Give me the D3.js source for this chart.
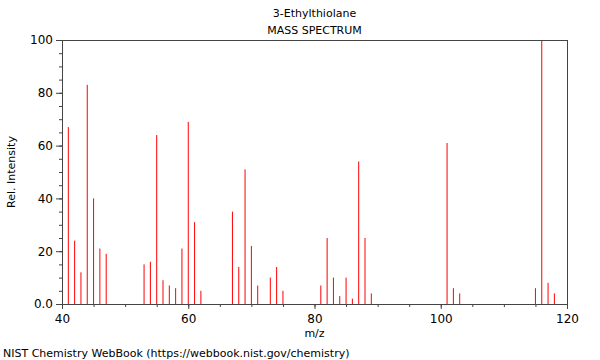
<!DOCTYPE html>
<html><head><meta charset="utf-8">
<script src="https://cdn.jsdelivr.net/npm/d3@7"></script>
<style>body{margin:0;background:#fff}svg{display:block}text{font-family:"DejaVu Sans",sans-serif;fill:#000}</style>
</head><body>
<svg id="c" width="600" height="360"></svg>
<script>
const title = "3-Ethylthiolane";
const subtitle = "MASS SPECTRUM";
const mz = [41,42,43,44,45,46,47,53,54,55,56,57,58,59,60,61,62,67,68,69,70,71,73,74,75,81,82,83,84,85,86,87,88,89,101,102,103,115,116,117,118];
const intensity = [67,24,12,83,40,21,19,15,16,64,9,7,6,21,69,31,5,35,14,51,22,7,10,14,5,7,25,10,3,10,2,54,25,4,61,6,4,6,100,8,4];
const xTicks = [40,60,80,100,120];
const yTicks = [0,20,40,60,80,100];
const yTickLabels = ["0.0","20","40","60","80","100"];

const svg = d3.select("#c");
const L = 62, R = 567, T = 40, B = 304;
const x = d3.scaleLinear().domain([40,120]).range([L,R]);
const y = d3.scaleLinear().domain([0,100]).range([B,T]);
const axisColor = "#444";

// bars
svg.append("g").selectAll("line").data(mz).join("line")
  .attr("x1", d => x(d)).attr("x2", d => x(d))
  .attr("y1", y(0)).attr("y2", (d,i) => y(intensity[i]))
  .attr("stroke", "#ff0000").attr("stroke-width", 1);

// x axis minor ticks
const xa = svg.append("g").attr("transform", `translate(0,${B})`);
xa.call(d3.axisBottom(x).tickValues(d3.range(40,121,5)).tickSize(3).tickFormat(""));
xa.call(g => g.append("g").call(d3.axisBottom(x).tickValues(xTicks).tickSize(5).tickPadding(5).tickFormat(d3.format("d"))));
xa.selectAll("path").attr("stroke", axisColor);
xa.selectAll("line").attr("stroke", axisColor);
xa.selectAll("text").attr("font-size", 12).attr("font-family", "DejaVu Sans").attr("fill","#000");

const ya = svg.append("g").attr("transform", `translate(${L},0)`);
ya.call(d3.axisLeft(y).tickValues(d3.range(0,101,5)).tickSize(3).tickFormat(""));
ya.call(g => g.append("g").call(d3.axisLeft(y).tickValues(yTicks).tickSize(6).tickPadding(3).tickFormat((d,i) => yTickLabels[i])));
ya.selectAll("path").attr("stroke", axisColor);
ya.selectAll("line").attr("stroke", axisColor);
ya.selectAll("text").attr("font-size", 12).attr("font-family", "DejaVu Sans").attr("fill","#000");

// frame top/right
svg.append("line").attr("x1", L).attr("x2", R).attr("y1", T+0.5).attr("y2", T+0.5).attr("stroke", axisColor);
svg.append("line").attr("x1", R+0.5).attr("x2", R+0.5).attr("y1", T).attr("y2", B).attr("stroke", axisColor);

// titles
svg.append("text").attr("x", (L+R)/2).attr("y", 17).attr("text-anchor","middle").attr("font-size", 11).text(title);
svg.append("text").attr("x", (L+R)/2).attr("y", 34).attr("text-anchor","middle").attr("font-size", 11).text(subtitle);
svg.append("text").attr("x", (L+R)/2).attr("y", 337).attr("text-anchor","middle").attr("font-size", 11).text("m/z");
svg.append("text").attr("transform", `translate(15,${(T+B)/2}) rotate(-90)`).attr("text-anchor","middle").attr("font-size", 11).text("Rel. Intensity");
svg.append("text").attr("x", 3).attr("y", 357).attr("font-size", 11).text("NIST Chemistry WebBook (https://webbook.nist.gov/chemistry)");
</script>
</body></html>
